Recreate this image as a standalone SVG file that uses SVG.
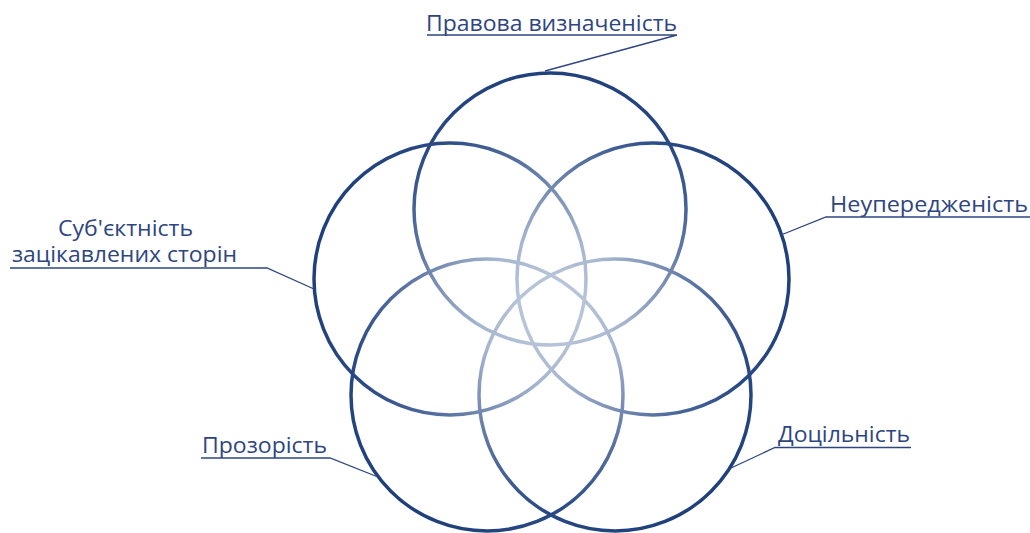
<svg xmlns="http://www.w3.org/2000/svg" width="1030" height="533" viewBox="0 0 1030 533">
<defs>
<radialGradient id="g" gradientUnits="userSpaceOnUse" cx="551" cy="310" r="245">
<stop offset="0" stop-color="#c3cedf"/>
<stop offset="0.3" stop-color="#a6b6cf"/>
<stop offset="0.6" stop-color="#5a74a2"/>
<stop offset="0.82" stop-color="#2a4a86"/>
<stop offset="1" stop-color="#1f3f7a"/>
</radialGradient>
</defs>
<style>
.c{fill:none;stroke:url(#g);stroke-width:3.5}
.t{font-family:"Open Sans","Noto Sans",sans-serif;font-size:21px;fill:#2e4580}
.l{fill:none;stroke:#2e4580;stroke-width:1.3}
</style>
<rect width="1030" height="533" fill="#fff"/>
<g id="circles">
<circle class="c" cx="550" cy="209" r="136"/>
<circle class="c" cx="653" cy="279" r="136"/>
<circle class="c" cx="450" cy="279" r="136"/>
<circle class="c" cx="487" cy="395" r="136"/>
<circle class="c" cx="615" cy="395" r="136"/>
</g>
<g id="connectors">
<polyline class="l" points="427,35 677,35 545,71"/>
<polyline class="l" points="1030,217 826,217 781,235"/>
<polyline class="l" points="10,268 267,268 314,289"/>
<polyline class="l" points="201,458 330,458 378,477"/>
<polyline class="l" points="911,447.5 775,447.5 731,468"/>
</g>
<g id="n1"><text class="t" x="426" y="31" textLength="251" lengthAdjust="spacingAndGlyphs">Правова визначеність</text></g>
<g id="n2"><text class="t" x="830" y="212" textLength="198" lengthAdjust="spacingAndGlyphs">Неупередженість</text></g>
<g id="n3"><text class="t" x="58" y="236" textLength="135" lengthAdjust="spacingAndGlyphs">Суб'єктність</text><text class="t" x="12" y="262" textLength="225" lengthAdjust="spacingAndGlyphs">зацікавлених сторін</text></g>
<g id="n4"><text class="t" x="202" y="453" textLength="125" lengthAdjust="spacingAndGlyphs">Прозорість</text></g>
<g id="n5"><text class="t" x="778" y="442" textLength="132" lengthAdjust="spacingAndGlyphs">Доцільність</text></g>
</svg>
